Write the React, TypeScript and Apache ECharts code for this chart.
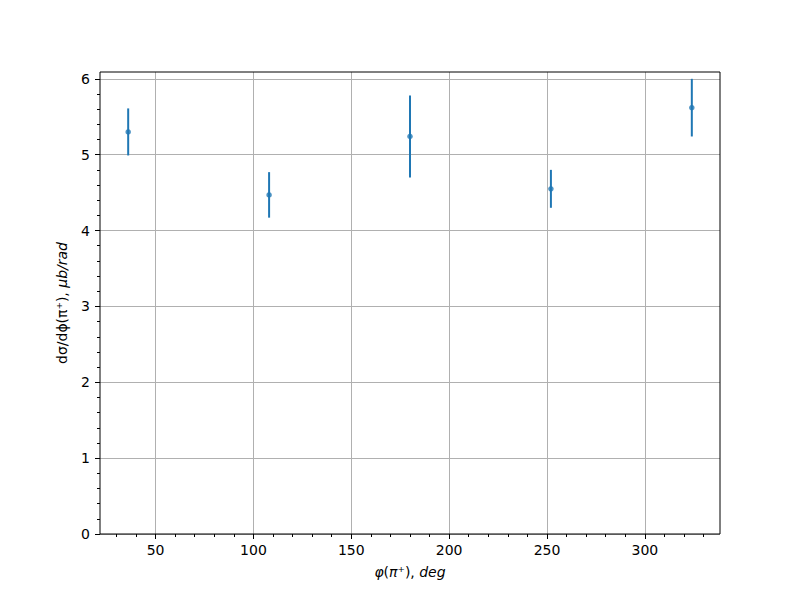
import React, { useEffect, useRef } from 'react';
import * as echarts from 'echarts';

// Data
const phiDeg = [36, 108, 180, 252, 324];
const xsec = [5.30, 4.47, 5.24, 4.55, 5.62];
const xsecErr = [0.31, 0.30, 0.54, 0.25, 0.38];

// Axis ticks
const xMajorTicks = [50, 100, 150, 200, 250, 300];
const xMinorTicks = [30, 40, 60, 70, 80, 90, 110, 120, 130, 140, 160, 170, 180, 190, 210, 220, 230, 240, 260, 270, 280, 290, 310, 320, 330];
const yMajorTicks = [0, 1, 2, 3, 4, 5, 6];
const yMinorTicks = [0.2, 0.4, 0.6, 0.8, 1.2, 1.4, 1.6, 1.8, 2.2, 2.4, 2.6, 2.8, 3.2, 3.4, 3.6, 3.8, 4.2, 4.4, 4.6, 4.8, 5.2, 5.4, 5.6, 5.8];

const X_MIN = 21.6;
const X_MAX = 338.4;
const Y_MIN = 0;
const Y_MAX = 6.09;

const FONT = 'DejaVu Sans';

export default function App() {
  const ref = useRef<HTMLDivElement>(null);

  useEffect(() => {
    if (!ref.current) return;
    const chart = echarts.init(ref.current, null, { renderer: 'svg' });

    const majorTick = { show: true, inside: false, length: 5, lineStyle: { color: '#000', width: 1 } };
    const minorTick = { show: true, inside: false, length: 3, lineStyle: { color: '#000', width: 1 } };
    const gridLine = { show: true, lineStyle: { color: '#b0b0b0', width: 1, type: 'solid' } };

    const option: any = {
      animation: false,
      backgroundColor: '#fff',
      textStyle: { fontFamily: FONT },
      grid: {
        left: 100,
        right: 80,
        top: 72,
        bottom: 66,
        show: true,
        borderColor: '#000',
        borderWidth: 1,
        backgroundColor: 'transparent',
        z: 3,
      },
      xAxis: [
        {
          type: 'value',
          min: X_MIN,
          max: X_MAX,
          position: 'bottom',
          axisLine: { show: false },
          axisTick: { ...majorTick, customValues: xMajorTicks },
          axisLabel: { show: true, customValues: xMajorTicks, color: '#000', fontSize: 14, margin: 9, fontFamily: FONT },
          splitLine: gridLine,
          name: '{i|φ}{n|(}{i|π}{n|⁺), }{i|deg}',
          nameLocation: 'middle',
          nameGap: 31,
          nameTextStyle: {
            rich: {
              i: { fontStyle: 'italic', fontSize: 14, fontFamily: FONT, color: '#000' },
              n: { fontSize: 14, fontFamily: FONT, color: '#000' },
            },
          },
        },
        {
          type: 'value',
          min: X_MIN,
          max: X_MAX,
          position: 'bottom',
          axisLine: { show: false },
          axisTick: { ...minorTick, customValues: xMinorTicks },
          axisLabel: { show: false },
          splitLine: { show: false },
        },
      ],
      yAxis: [
        {
          type: 'value',
          min: Y_MIN,
          max: Y_MAX,
          position: 'left',
          axisLine: { show: false },
          axisTick: { ...majorTick, customValues: yMajorTicks },
          axisLabel: { show: true, customValues: yMajorTicks, color: '#000', fontSize: 14, margin: 10, fontFamily: FONT },
          splitLine: gridLine,
          name: '{n|dσ/dϕ(π⁺), }{i|μb/rad}',
          nameLocation: 'middle',
          nameRotate: 90,
          nameGap: 31,
          nameTextStyle: {
            rich: {
              i: { fontStyle: 'italic', fontSize: 14, fontFamily: FONT, color: '#000' },
              n: { fontSize: 14, fontFamily: FONT, color: '#000' },
            },
          },
        },
        {
          type: 'value',
          min: Y_MIN,
          max: Y_MAX,
          position: 'left',
          axisLine: { show: false },
          axisTick: { ...minorTick, customValues: yMinorTicks },
          axisLabel: { show: false },
          splitLine: { show: false },
        },
      ],
      series: [
        {
          type: 'custom',
          xAxisIndex: 0,
          yAxisIndex: 0,
          z: 4,
          data: phiDeg.map((x, i) => [x, xsec[i] - xsecErr[i], xsec[i] + xsecErr[i]]),
          encode: { x: 0, y: [1, 2] },
          renderItem: (params: any, api: any) => {
            const x = api.value(0);
            const p1 = api.coord([x, api.value(1)]);
            const p2 = api.coord([x, api.value(2)]);
            return {
              type: 'line',
              shape: { x1: p1[0], y1: p1[1], x2: p2[0], y2: p2[1] },
              style: { stroke: '#1f77b4', lineWidth: 2 },
            };
          },
        },
        {
          type: 'scatter',
          xAxisIndex: 0,
          yAxisIndex: 0,
          z: 5,
          symbol: 'circle',
          symbolSize: 5.5,
          itemStyle: { color: '#1f77b4' },
          data: phiDeg.map((x, i) => [x, xsec[i]]),
        },
      ],
    };

    chart.setOption(option);
    return () => chart.dispose();
  }, []);

  return (
    <div
      ref={ref}
      style={{ position: 'fixed', left: 0, top: 0, width: 800, height: 600, background: '#fff' }}
    />
  );
}
